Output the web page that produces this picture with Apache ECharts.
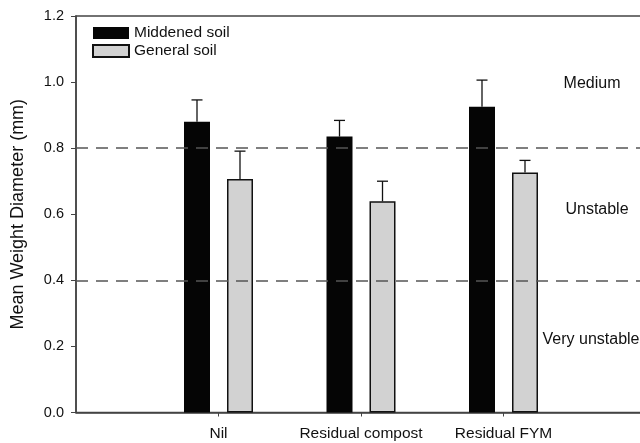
<!DOCTYPE html>
<html>
<head>
<meta charset="utf-8">
<style>html,body{margin:0;padding:0;background:#fff;}#chart{width:640px;height:443px;}</style>
<script src="https://cdn.jsdelivr.net/npm/echarts@6/dist/echarts.min.js"></script>
</head>
<body>
<div id="chart"></div>
<script>
// Data
const categories = ['', 'Nil', 'Residual compost', 'Residual FYM', ''];
const middened = [0.88, 0.835, 0.925];
const middenedErr = [0.066, 0.049, 0.081];
const general = [0.707, 0.639, 0.726];
const generalErr = [0.084, 0.061, 0.037];
const yTicks = [0, 0.2, 0.4, 0.6, 0.8, 1.0, 1.2];
const thresholds = [0.4, 0.8];
const zoneLabels = ['Medium', 'Unstable', 'Very unstable'];

const FONT = 'Liberation Sans, Arial, sans-serif';
const BAR_W = 26, GAP = 17;
const OFF = (BAR_W + GAP) / 2;

function padSeries(arr) { return [null].concat(arr).concat([null]); }
function errData(vals, errs) {
  return vals.map((v, i) => [i + 1, v, v + errs[i]]);
}
function errRender(offset) {
  return function (params, api) {
    const base = api.coord([api.value(0), api.value(1)]);
    const top = api.coord([api.value(0), api.value(2)]);
    const x = base[0] + offset;
    const style = { stroke: '#111', lineWidth: 1.3 };
    return {
      type: 'group',
      children: [
        { type: 'line', shape: { x1: x, y1: base[1], x2: x, y2: top[1] }, style: style },
        { type: 'line', shape: { x1: x - 5.5, y1: top[1], x2: x + 5.5, y2: top[1] }, style: style }
      ]
    };
  };
}

const chart = echarts.init(document.getElementById('chart'), null, { renderer: 'canvas' });
chart.setOption({
  animation: false,
  backgroundColor: '#fff',
  textStyle: { fontFamily: FONT },
  grid: {
    left: 76, right: -6, top: 16, bottom: 30.5,
    outerBoundsMode: 'none', containLabel: false,
    show: true, borderColor: '#444', borderWidth: 1.5, backgroundColor: 'transparent'
  },
  legend: {
    orient: 'vertical', left: 92, top: 25, padding: 0,
    icon: 'rect',
    itemWidth: 36, itemHeight: 12, itemGap: 2,
    textStyle: { fontSize: 15.5, lineHeight: 15, color: '#111', fontFamily: FONT },
    data: ['Middened soil', 'General soil']
  },
  xAxis: {
    type: 'category', data: categories, boundaryGap: false,
    axisLine: { lineStyle: { color: '#444', width: 1.5 } },
    axisTick: { length: 4, lineStyle: { color: '#444' }, interval: (i, v) => v !== '' },
    axisLabel: { interval: 0, fontSize: 15.5, color: '#111', margin: 13, fontFamily: FONT },
    splitLine: { show: false }
  },
  yAxis: {
    type: 'value', min: 0, max: 1.2, interval: 0.2,
    name: 'Mean Weight Diameter (mm)', nameLocation: 'middle', nameGap: 49,
    nameTextStyle: { fontSize: 18, color: '#111', fontFamily: FONT },
    axisLine: { show: true, lineStyle: { color: '#444', width: 1.5 } },
    axisTick: { show: true, length: 5, lineStyle: { color: '#444' } },
    axisLabel: { fontSize: 14.5, color: '#111', margin: 12, fontFamily: FONT,
      formatter: v => yTicks.includes(+v.toFixed(1)) ? v.toFixed(1) : '' },
    splitLine: { show: false }
  },
  series: [
    {
      name: 'Middened soil', type: 'bar', data: padSeries(middened),
      barWidth: BAR_W, barGap: (GAP / BAR_W * 100) + '%',
      itemStyle: { color: '#050505', borderColor: '#050505', borderWidth: 0 },
      markLine: {
        silent: true, symbol: 'none', label: { show: false },
        lineStyle: { color: '#555', width: 1.5, type: [12, 8] },
        data: thresholds.map(t => ({ yAxis: t }))
      },
      z: 2
    },
    {
      name: 'General soil', type: 'bar', data: padSeries(general),
      barWidth: BAR_W,
      itemStyle: { color: '#d2d2d2', borderColor: '#111', borderWidth: 1.5 },
      z: 2
    },
    {
      type: 'custom', renderItem: errRender(-OFF), data: errData(middened, middenedErr),
      encode: { x: 0, y: [1, 2] }, z: 3, silent: true
    },
    {
      type: 'custom', renderItem: errRender(OFF), data: errData(general, generalErr),
      encode: { x: 0, y: [1, 2] }, z: 3, silent: true
    }
  ],
  graphic: [
    { type: 'text', x: 592, y: 84, style: { text: zoneLabels[0], fill: '#111', font: '16px ' + FONT, textAlign: 'center', textVerticalAlign: 'middle' } },
    { type: 'text', x: 597, y: 210, style: { text: zoneLabels[1], fill: '#111', font: '16px ' + FONT, textAlign: 'center', textVerticalAlign: 'middle' } },
    { type: 'text', x: 591, y: 340, style: { text: zoneLabels[2], fill: '#111', font: '16px ' + FONT, textAlign: 'center', textVerticalAlign: 'middle' } }
  ]
});
</script>
</body>
</html>
